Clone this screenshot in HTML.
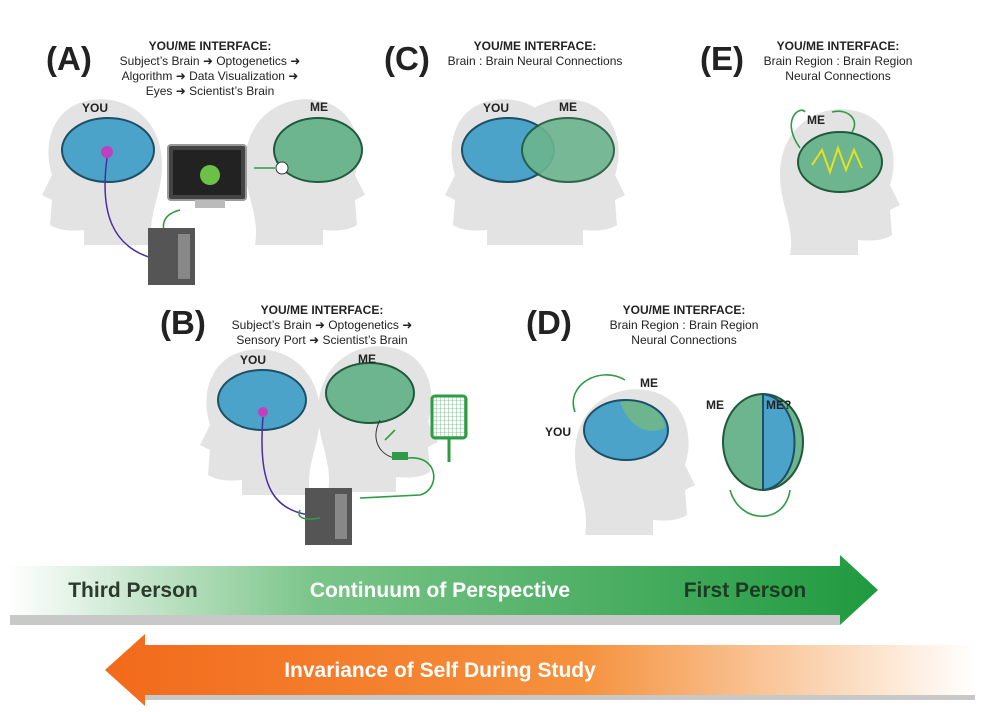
<!DOCTYPE html>
<html><head><meta charset="utf-8"><style>
body{margin:0;background:#fff;}
svg{display:block;font-family:"Liberation Sans",sans-serif;}
.L{font-size:33px;font-weight:bold;fill:#222;}
.h{font-size:12px;font-weight:bold;fill:#222;text-anchor:middle;}
.t{font-size:12px;fill:#222;text-anchor:middle;}
.w{font-size:12px;font-weight:bold;fill:#222;}
.head{fill:#e3e3e3;}
.bb{fill:#4ba3c9;stroke:#1d4f66;stroke-width:2;}
.gb{fill:#6cb58e;stroke:#1f5a3b;stroke-width:2;}
.ln{fill:none;stroke:#2e9b45;stroke-width:1.6;}
</style></head><body>
<svg width="987" height="712" viewBox="0 0 987 712">
<defs>
<linearGradient id="gg" x1="0" x2="1"><stop offset="0" stop-color="#ffffff"/><stop offset="0.35" stop-color="#7cc58a"/><stop offset="1" stop-color="#1f9a3f"/></linearGradient>
<linearGradient id="og" x1="0" x2="1"><stop offset="0" stop-color="#f26a1b"/><stop offset="0.55" stop-color="#f5923e"/><stop offset="1" stop-color="#ffffff"/></linearGradient>
<g id="headR"><path d="M0,60 C0,10 40,-10 70,-5 C110,0 120,40 110,70 L120,90 L110,95 L112,120 C100,128 80,125 78,125 L78,140 L10,140 C15,110 0,90 0,60Z"/></g>
<g id="headL"><path d="M0,60 C0,10 40,-10 70,-5 C110,0 120,40 110,70 L120,90 L110,95 L112,120 C100,128 80,125 78,125 L78,140 L10,140 C15,110 0,90 0,60Z" transform="translate(120,0) scale(-1,1)"/></g>
<pattern id="grid" width="4" height="4" patternUnits="userSpaceOnUse"><path d="M4,0 L0,0 0,4" fill="none" stroke="#2e9b45" stroke-width="0.6"/></pattern>
</defs>

<!-- A -->
<use href="#headL" class="head" x="42" y="105"/>
<ellipse class="bb" cx="108" cy="150" rx="46" ry="32"/>
<circle cx="107" cy="152" r="6" fill="#c040c0"/>
<path d="M107,158 C100,210 110,250 160,260" fill="none" stroke="#4a2ea0" stroke-width="1.5"/>
<use href="#headR" class="head" x="245" y="105"/>
<ellipse class="gb" cx="318" cy="150" rx="44" ry="32"/>
<rect x="168" y="145" width="78" height="55" rx="3" fill="#444" stroke="#999" stroke-width="2"/>
<rect x="173" y="150" width="68" height="45" fill="#222"/>
<circle cx="210" cy="175" r="10" fill="#6cc048"/>
<rect x="195" y="200" width="30" height="8" fill="#bbb"/>
<path d="M254,168 L275,168" class="ln"/><circle cx="282" cy="168" r="6" fill="#fff" stroke="#333"/>
<path d="M180,210 C160,215 160,230 170,240" class="ln"/>
<rect x="148" y="228" width="47" height="57" fill="#555"/>
<rect x="178" y="234" width="12" height="45" fill="#888"/>
<text class="L" x="46" y="70">(A)</text>
<text class="h" x="210" y="50">YOU/ME INTERFACE:</text>
<text class="t" x="210" y="65">Subject’s Brain ➜ Optogenetics ➜</text>
<text class="t" x="210" y="80">Algorithm ➜ Data Visualization ➜</text>
<text class="t" x="210" y="95">Eyes ➜ Scientist’s Brain</text>
<text class="w" x="82" y="112">YOU</text>
<text class="w" x="310" y="111">ME</text>

<!-- C -->
<use href="#headL" class="head" x="445" y="105"/>
<use href="#headR" class="head" x="505" y="105"/>
<ellipse class="bb" cx="508" cy="150" rx="46" ry="32"/>
<ellipse class="gb" cx="568" cy="150" rx="46" ry="32" opacity="0.9"/>
<text class="L" x="384" y="70">(C)</text>
<text class="h" x="535" y="50">YOU/ME INTERFACE:</text>
<text class="t" x="535" y="65">Brain : Brain Neural Connections</text>
<text class="w" x="483" y="112">YOU</text>
<text class="w" x="559" y="111">ME</text>

<!-- E -->
<use href="#headR" class="head" x="780" y="115"/>
<ellipse class="gb" cx="840" cy="162" rx="42" ry="30"/>
<path d="M812,165 L822,150 L830,172 L838,148 L846,170 L854,150 L862,168" fill="none" stroke="#e6e020" stroke-width="2"/>
<path d="M800,148 C780,120 800,105 805,112" class="ln"/>
<path d="M832,112 C848,108 860,120 852,132" class="ln"/>
<text class="L" x="700" y="70">(E)</text>
<text class="h" x="838" y="50">YOU/ME INTERFACE:</text>
<text class="t" x="838" y="65">Brain Region : Brain Region</text>
<text class="t" x="838" y="80">Neural Connections</text>
<text class="w" x="807" y="124">ME</text>

<!-- B -->
<use href="#headL" class="head" x="200" y="355"/>
<ellipse class="bb" cx="262" cy="400" rx="44" ry="30"/>
<circle cx="263" cy="412" r="5" fill="#c040c0"/>
<path d="M263,417 C258,480 270,510 310,515" fill="none" stroke="#4a2ea0" stroke-width="1.5"/>
<use href="#headR" class="head" x="318" y="352"/>
<ellipse class="gb" cx="370" cy="393" rx="44" ry="30"/>
<path d="M380,420 C370,440 380,455 395,458" fill="none" stroke="#333"/>
<rect x="392" y="452" width="16" height="8" fill="#2e9b45"/>
<path d="M408,458 C440,455 440,490 420,495 L360,498" class="ln"/>
<path d="M385,440 L395,430" class="ln"/>
<rect x="432" y="396" width="34" height="42" rx="3" fill="url(#grid)" stroke="#2e9b45" stroke-width="3"/>
<line x1="449" y1="438" x2="449" y2="462" stroke="#2e9b45" stroke-width="3"/>
<rect x="305" y="488" width="47" height="57" fill="#555"/>
<rect x="335" y="494" width="12" height="45" fill="#888"/>
<path d="M300,510 C295,520 310,520 320,518" class="ln"/>
<text class="L" x="160" y="334">(B)</text>
<text class="h" x="322" y="314">YOU/ME INTERFACE:</text>
<text class="t" x="322" y="329">Subject’s Brain ➜ Optogenetics ➜</text>
<text class="t" x="322" y="344">Sensory Port ➜ Scientist’s Brain</text>
<text class="w" x="240" y="364">YOU</text>
<text class="w" x="358" y="363">ME</text>

<!-- D -->
<path d="M575,412 C565,385 600,365 625,380" class="ln"/>
<use href="#headR" class="head" x="575" y="395"/>
<ellipse class="bb" cx="626" cy="430" rx="42" ry="30"/>
<path d="M620,402 C640,398 665,410 665,428 C650,435 630,430 620,402Z" fill="#6cb58e"/>
<ellipse cx="763" cy="442" rx="40" ry="48" fill="#6cb58e" stroke="#1f5a3b" stroke-width="2"/>
<path d="M763,394 C805,400 805,485 763,490Z" fill="#4ba3c9" stroke="#1d4f66" stroke-width="2"/>
<path d="M730,490 C740,525 785,525 790,490" class="ln"/>
<text class="L" x="526" y="334">(D)</text>
<text class="h" x="684" y="314">YOU/ME INTERFACE:</text>
<text class="t" x="684" y="329">Brain Region : Brain Region</text>
<text class="t" x="684" y="344">Neural Connections</text>
<text class="w" x="640" y="387">ME</text>
<text class="w" x="545" y="436">YOU</text>
<text class="w" x="706" y="409">ME</text>
<text class="w" x="766" y="409">ME?</text>

<!-- green arrow -->
<path d="M10,625 L840,625 L840,612 L10,612Z" fill="#c8c8c8"/>
<path d="M8,566 L840,566 L840,555 L878,590 L840,625 L840,615 L8,615Z" fill="url(#gg)"/>
<text x="133" y="597" text-anchor="middle" font-size="21" font-weight="bold" fill="#2c3b2c">Third Person</text>
<text x="440" y="597" text-anchor="middle" font-size="21" font-weight="bold" fill="#fff">Continuum of Perspective</text>
<text x="745" y="597" text-anchor="middle" font-size="21" font-weight="bold" fill="#1d3a22">First Person</text>

<!-- orange arrow -->
<path d="M145,700 L975,700 L975,688 L145,688Z" fill="#c8c8c8"/>
<path d="M975,645 L145,645 L145,634 L105,670 L145,706 L145,695 L975,695Z" fill="url(#og)"/>
<text x="440" y="677" text-anchor="middle" font-size="21" font-weight="bold" fill="#fff">Invariance of Self During Study</text>
</svg>
</body></html>
